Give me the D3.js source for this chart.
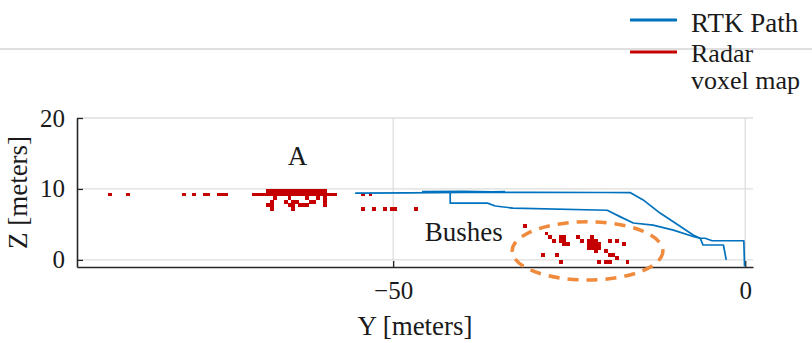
<!DOCTYPE html>
<html>
<head>
<meta charset="utf-8">
<script src="https://cdn.jsdelivr.net/npm/d3@7"></script>
<style>
  body { margin: 0; background: #fff; }
</style>
</head>
<body>
<svg id="chart" width="812" height="343"></svg>
<script>
"use strict";

/* global d3, document */

// tick values
var xTicks = [-50, 0];
var yTicks = [0, 10, 20];

// RTK path, [Y, Z] in meters
var rtkMain = [
    [-55.4, 9.4], [-48, 9.45], [-40, 9.5], [-30, 9.52], [-20, 9.5], [-16.3, 9.48],
    [-14.5, 8.45], [-12.1, 6.6], [-9.2, 4.7], [-7.4, 3.5], [-6.4, 3.06],
    [-6.0, 2.1], [-3.1, 2.1], [-2.7, 0.0]
];
var rtkBranch = [
    [-41.9, 9.5], [-41.9, 8.0], [-36.6, 8.0], [-35.5, 7.6], [-33.0, 7.3],
    [-19.6, 7.0], [-17.8, 6.1], [-15.9, 5.2], [-13.1, 4.9], [-10.2, 4.2],
    [-7.4, 3.3], [-6.4, 3.05], [-5.7, 3.05], [-4.7, 2.7], [-0.2, 2.7], [-0.1, -0.9]
];
var rtkOverlap = [
    [-45.9, 9.62], [-40, 9.66], [-36, 9.6], [-34.1, 9.62]
];

// radar voxels (0.5 m cubes), [Y, Z] centres
var voxelsFar = [
    [-90.25, 9.25], [-87.75, 9.25], [-79.75, 9.25], [-78.25, 9.25],
    [-76.75, 9.25], [-76.25, 9.25], [-74.75, 9.25], [-74.25, 9.25], [-73.75, 9.25]
];
var voxelsA = [];
d3.range(-69.75, -58.0, 0.5).forEach(function (v) { voxelsA.push([v, 9.25]); });
d3.range(-67.75, -59.5, 0.5).forEach(function (v) { voxelsA.push([v, 9.75]); });
voxelsA = voxelsA.concat([
    [-66.75, 8.75], [-64.75, 8.75], [-62.25, 8.75], [-60.75, 8.75], [-59.75, 8.75],
    [-67.25, 8.25], [-65.25, 8.25], [-64.25, 8.25], [-63.75, 8.25], [-61.75, 8.25], [-61.25, 8.25], [-59.75, 8.25],
    [-67.75, 7.75], [-67.25, 7.75], [-64.75, 7.75], [-64.25, 7.75], [-63.25, 7.75], [-62.75, 7.75], [-62.25, 7.75], [-59.75, 7.75],
    [-67.25, 7.25], [-64.25, 7.25]
]);
var voxelsMid = [
    [-54.25, 9.25], [-53.25, 9.25],
    [-54.25, 7.25], [-52.75, 7.25], [-51.25, 7.25], [-50.25, 7.25], [-49.75, 7.25], [-46.75, 7.25]
];
var voxelsBushes = [
    [-31.25, 4.75], [-28.25, 3.75], [-27.75, 3.25], [-27.25, 2.75],
    [-26.25, 3.25], [-25.75, 3.25], [-26.25, 2.75], [-25.75, 2.75],
    [-25.75, 2.25], [-25.25, 2.25], [-28.75, 0.75], [-26.75, 0.75], [-26.25, -0.25],
    [-23.75, 3.25], [-23.25, 2.75],
    [-22.25, 1.75], [-21.75, 1.75], [-21.25, 1.75],
    [-22.25, 2.25], [-21.75, 2.25], [-21.25, 2.25],
    [-22.25, 2.75], [-21.75, 2.75], [-21.25, 2.75], [-21.75, 3.25],
    [-20.75, 2.25], [-20.75, 1.75], [-21.25, 1.25], [-20.75, -0.25],
    [-19.75, -0.25], [-19.25, -0.25], [-19.75, 1.25], [-19.25, 0.75],
    [-19.25, 2.75], [-18.25, 2.75], [-17.25, 2.25], [-18.75, 0.75],
    [-18.25, 0.25], [-16.75, -0.25]
];

var voxelSize = 0.5;
var bushEllipse = { y: -22.4, z: 1.27, ry: 10.7, rz: 4.1 };

var blue = "#0072bd";
var red = "#c40000";
var orange = "#f08a3c";
var serif = "'Liberation Serif', 'Times New Roman', Times, serif";

var svg = d3.select("#chart")
    .attr("font-family", serif);
svg.append("rect").attr("width", 812).attr("height", 343).attr("fill", "#fff");

var x = d3.scaleLinear().domain([-94.9, 1.1]).range([77, 753]);
var y = d3.scaleLinear().domain([-1, 20]).range([267, 118]);

function addText(sel, size) {
    return sel.append("text")
        .attr("font-family", serif)
        .attr("font-size", size)
        .attr("fill", "#1a1a1a");
}

// grid
var grid = svg.append("g").attr("stroke", "#dedede").attr("stroke-width", 1.3);
grid.selectAll(".gx").data(xTicks).enter().append("line")
    .attr("x1", function (d) { return x(d); })
    .attr("x2", function (d) { return x(d); })
    .attr("y1", y(20.05)).attr("y2", y(-1));
grid.selectAll(".gy").data(yTicks).enter().append("line")
    .attr("x1", x(-94.9)).attr("x2", x(1.1))
    .attr("y1", function (d) { return y(d); })
    .attr("y2", function (d) { return y(d); });

// axes
var xAxis = svg.append("g")
    .attr("transform", "translate(0," + y(-1) + ")")
    .call(d3.axisBottom(x).tickValues(xTicks).tickSize(-6).tickSizeOuter(0).tickPadding(14)
        .tickFormat(function (d) { return d < 0 ? "\u2212" + Math.abs(d) : d; }));
var yAxis = svg.append("g")
    .attr("transform", "translate(" + x(-94.9) + ",0)")
    .call(d3.axisLeft(y).tickValues(yTicks).tickSize(-6).tickSizeOuter(0).tickPadding(12));

[xAxis, yAxis].forEach(function (ax) {
    ax.attr("font-family", serif).attr("font-size", 25);
    ax.select(".domain").attr("stroke", "#262626").attr("stroke-width", 1.6);
    ax.selectAll(".tick line").attr("stroke", "#262626").attr("stroke-width", 1.3);
    ax.selectAll(".tick text").attr("font-family", serif).attr("fill", "#1a1a1a");
});

addText(svg, 27)
    .attr("x", (x(-94.9) + x(1.1)) / 2).attr("y", 335)
    .attr("text-anchor", "middle")
    .text("Y [meters]");
addText(svg, 27)
    .attr("transform", "translate(27," + (y(-1) + y(20)) / 2 + ") rotate(-90)")
    .attr("text-anchor", "middle")
    .text("Z [meters]");

// voxels
var allVoxels = voxelsFar.concat(voxelsA, voxelsMid, voxelsBushes);
svg.append("g").attr("shape-rendering", "crispEdges")
    .selectAll("rect").data(allVoxels).enter().append("rect")
    .attr("x", function (d) { return x(d[0] - voxelSize / 2); })
    .attr("y", function (d) { return y(d[1] + voxelSize / 2); })
    .attr("width", function (d) { return x(d[0] + voxelSize / 2) - x(d[0] - voxelSize / 2) + 0.4; })
    .attr("height", function (d) { return y(d[1] - voxelSize / 2) - y(d[1] + voxelSize / 2) + 0.4; })
    .attr("fill", red);

// RTK path
var line = d3.line()
    .x(function (d) { return x(d[0]); })
    .y(function (d) { return y(d[1]); });
svg.append("g").selectAll("path").data([rtkMain, rtkBranch, rtkOverlap]).enter().append("path")
    .attr("d", line)
    .attr("fill", "none")
    .attr("stroke", blue)
    .attr("stroke-width", 1.7)
    .attr("stroke-linejoin", "round");

// annotations
svg.append("ellipse")
    .attr("cx", x(bushEllipse.y)).attr("cy", y(bushEllipse.z))
    .attr("rx", x(bushEllipse.y + bushEllipse.ry) - x(bushEllipse.y))
    .attr("ry", y(bushEllipse.z - bushEllipse.rz) - y(bushEllipse.z))
    .attr("fill", "none")
    .attr("stroke", orange)
    .attr("stroke-width", 3.5)
    .attr("stroke-dasharray", "11,8");

addText(svg, 27)
    .attr("x", x(-63.6)).attr("y", y(13.4))
    .attr("text-anchor", "middle")
    .text("A");
addText(svg, 27)
    .attr("x", x(-45.5)).attr("y", y(2.6))
    .text("Bushes");

// stray rule behind the legend
svg.append("line")
    .attr("x1", 0).attr("x2", 812).attr("y1", 49).attr("y2", 49)
    .attr("stroke", "#d4d4d4").attr("stroke-width", 1.5);

// legend
var legend = svg.append("g");
legend.append("line").attr("x1", 630).attr("x2", 677).attr("y1", 20).attr("y2", 20)
    .attr("stroke", blue).attr("stroke-width", 3);
legend.append("line").attr("x1", 630).attr("x2", 677).attr("y1", 52).attr("y2", 52)
    .attr("stroke", red).attr("stroke-width", 3);
addText(legend, 27).attr("x", 691).attr("y", 32).text("RTK Path");
addText(legend, 26).attr("x", 691).attr("y", 62).text("Radar");
addText(legend, 26).attr("x", 691).attr("y", 89).text("voxel map");
</script>
</body>
</html>
